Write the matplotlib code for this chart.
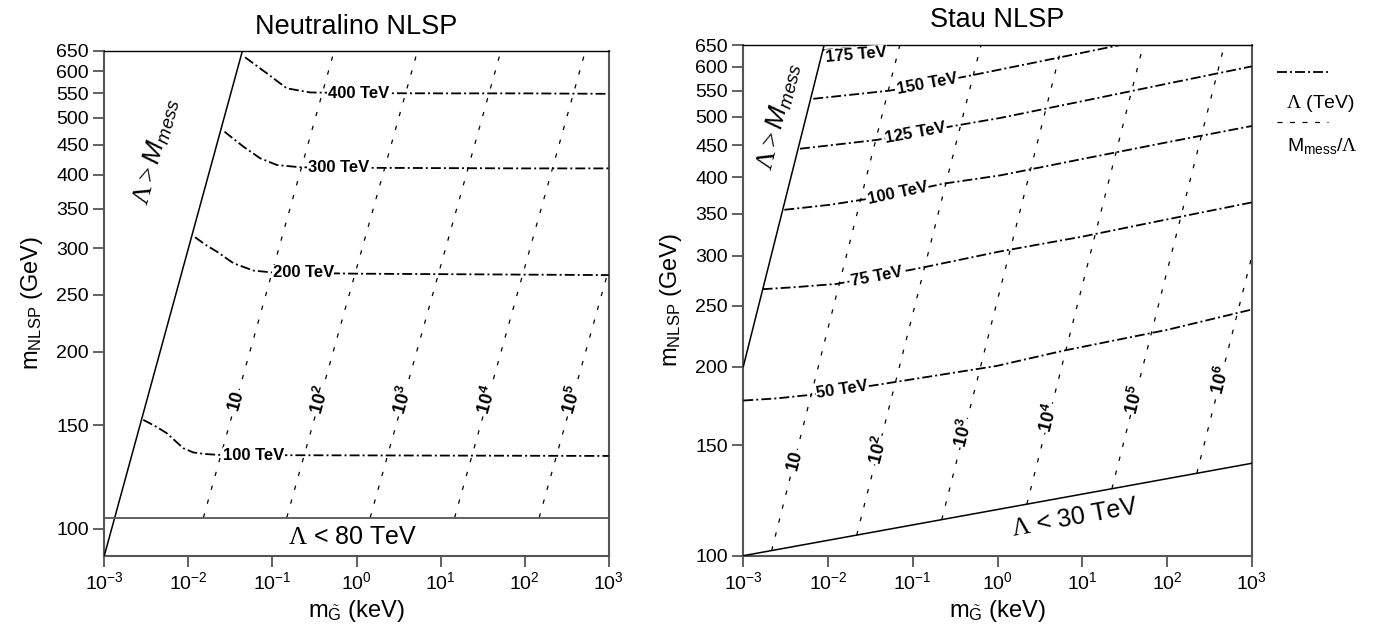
import numpy as np
import matplotlib
matplotlib.use('Agg')
import matplotlib.pyplot as plt
from matplotlib.lines import Line2D
from matplotlib.ticker import NullLocator, FixedLocator, FixedFormatter

plt.rcParams['font.family'] = ['Liberation Sans', 'DejaVu Sans']
plt.rcParams['mathtext.fontset'] = 'custom'
plt.rcParams['mathtext.rm'] = 'Liberation Serif'
plt.rcParams['mathtext.it'] = 'Liberation Sans:italic'
plt.rcParams['mathtext.bf'] = 'Liberation Sans:bold'
plt.rcParams['mathtext.sf'] = 'Liberation Sans'

# ---------------- data ----------------
x_decades = [1e-3, 1e-2, 1e-1, 1e0, 1e1, 1e2, 1e3]
m_ticks = [100, 150, 200, 250, 300, 350, 400, 450, 500, 550, 600, 650]

# Neutralino NLSP: Lambda contours (x: gravitino mass keV, y: NLSP mass GeV)
neu_labels = ['100 TeV', '200 TeV', '300 TeV', '400 TeV']
neu_100_x = [2.91e-3, 4.2e-3, 5.53e-3, 7.0e-3, 8.7e-3, 1.15e-2, 1.6e-2, 2.18e-2, 0.1, 1, 10, 100, 1000]
neu_100_y = [153.2, 149.0, 145.4, 141.0, 137.1, 134.8, 134.0, 133.6, 133.4, 133.3, 133.2, 133.1, 133.0]
neu_200_x = [1.2e-2, 1.6e-2, 2.18e-2, 3.44e-2, 5.94e-2, 0.103, 1, 10, 100, 1000]
neu_200_y = [313.2, 304.0, 296.0, 282.8, 274.8, 272.7, 271.5, 271.0, 270.5, 270.0]
neu_300_x = [2.69e-2, 4.52e-2, 7.14e-2, 0.113, 0.214, 1, 10, 100, 1000]
neu_300_y = [473.4, 446.4, 426.6, 415.5, 411.8, 411.0, 410.5, 410.0, 410.0]
neu_400_x = [4.73e-2, 8.57e-2, 0.148, 0.281, 1, 10, 100, 1000]
neu_400_y = [633.4, 595.0, 561.0, 552.0, 550.5, 550.0, 550.0, 549.0]
neu_label_x = [6.05e-2, 0.232, 0.605, 1.05]

# Neutralino boundaries
neu_mess_x = [1e-3, 0.044]
neu_mess_y = [90, 650]
neu_lam80 = 104.5
# Messenger-scale ratio lines: gravitino mass where each line meets the Lambda<80 TeV line
neu_ratio_labels = ['10', '10^2', '10^3', '10^4', '10^5']
neu_ratio_x0 = [1.51e-2, 0.148, 1.455, 14.7, 149.0]
neu_ratio_slope = 1.96
neu_ratio_label_y = 165.6

# Stau NLSP: Lambda contours
stau_labels = ['50 TeV', '75 TeV', '100 TeV', '125 TeV', '150 TeV', '175 TeV']
stau_50_x = [1e-3, 2.5e-3, 6.17e-3, 3.76e-2, 0.982, 6.0, 100, 1000]
stau_50_y = [176.6, 178.0, 180.3, 187.0, 200.5, 212.0, 228.8, 246.5]
stau_75_x = [1.69e-3, 3.98e-3, 1.27e-2, 0.122, 1.07, 10, 100, 1000]
stau_75_y = [265.6, 267.5, 270.8, 287.0, 305.0, 322.0, 343.0, 365.0]
stau_100_x = [3.05e-3, 1.06e-2, 5e-2, 0.23, 1.07, 10, 100, 1000]
stau_100_y = [355.3, 361.9, 374.0, 391.0, 403.0, 428.0, 455.0, 483.0]
stau_125_x = [4.67e-3, 3.76e-2, 0.275, 1.07, 10, 100, 1000]
stau_125_y = [444.4, 459.0, 482.0, 497.4, 529.0, 564.0, 601.0]
stau_150_x = [6.7e-3, 5.4e-2, 0.435, 3.18, 28.0, 100]
stau_150_y = [533.7, 550.0, 579.6, 612.0, 650.0, 672.0]
stau_175_x = [8.7e-3, 3.0e-2, 9.0e-2]
stau_175_y = [638.0, 646.0, 655.0]
stau_label_x = [1.46e-2, 3.8e-2, 6.7e-2, 0.109, 0.15, 2.14e-2]

# Stau boundaries
stau_mess_x = [1e-3, 9.0e-3]
stau_mess_y = [200, 650]
stau_lam30_x = [1e-3, 1e3]
stau_lam30_y = [100, 140.3]
stau_ratio_labels = ['10', '10^2', '10^3', '10^4', '10^5', '10^6']
stau_ratio_x0 = [2.16e-3, 2.18e-2, 0.22, 2.22, 22.4, 225.0]
stau_ratio_slope = 1.88
stau_ratio_label_y = [142.0, 147.3, 156.7, 165.5, 177.0, 190.5]

# ---------------- styling ----------------
W, H = 1387, 634
fig = plt.figure(figsize=(W / 100, H / 100), dpi=100)
ax1 = fig.add_axes([104.3 / W, 1 - 555.7 / H, 504.4 / W, 505.0 / H])
ax2 = fig.add_axes([743.3 / W, 1 - 555.7 / H, 508.4 / W, 510.7 / H])

DASHDOT = (0, (5.5, 1.7, 1.1, 1.7))
DASHED = (0, (3.5, 8))
LW_L = 1.3
LW_R = 0.9
LAB_FS = 12
RAT_FS = 13


def style_axes(ax, ymin):
    ax.set_xscale('log')
    ax.set_yscale('log')
    ax.set_xlim(1e-3, 1e3)
    ax.set_ylim(ymin, 650)
    ax.xaxis.set_major_locator(FixedLocator(x_decades))
    ax.xaxis.set_minor_locator(NullLocator())
    ax.yaxis.set_major_locator(FixedLocator(m_ticks))
    ax.yaxis.set_major_formatter(FixedFormatter([str(t) for t in m_ticks]))
    ax.yaxis.set_minor_locator(NullLocator())
    ax.tick_params(direction='out', length=8, width=1.3, color='#555555',
                   labelsize=14, pad=3)
    for s in ['left', 'bottom', 'right']:
        ax.spines[s].set_color('#555555')
        ax.spines[s].set_linewidth(1.5)
    ax.spines['top'].set_color('black')
    ax.spines['top'].set_linewidth(1.0)
    ax.set_ylabel(r'm$_{\mathsf{NLSP}}$ (GeV)', fontsize=17, labelpad=8)
    ax.set_xlabel(r'm$_{\tilde{\mathsf{G}}}$ (keV)', fontsize=17, labelpad=4)


style_axes(ax1, 90)
style_axes(ax2, 100)
ax1.set_title('Neutralino NLSP', fontsize=19.5, pad=12)
ax2.set_title('Stau NLSP', fontsize=19.5, pad=13)


def disp_angle(ax, x0, y0, x1, y1):
    p0 = ax.transData.transform((x0, y0))
    p1 = ax.transData.transform((x1, y1))
    return np.degrees(np.arctan2(p1[1] - p0[1], p1[0] - p0[0]))


def curve_label(ax, xs, ys, xl, text, rotate=True):
    lx, ly = np.log10(xs), np.log10(ys)
    t = np.log10(xl)
    yl = 10 ** np.interp(t, lx, ly)
    ang = 0
    if rotate:
        ya = 10 ** np.interp(t - 0.15, lx, ly)
        yb = 10 ** np.interp(t + 0.15, lx, ly)
        ang = disp_angle(ax, 10 ** (t - 0.15), ya, 10 ** (t + 0.15), yb)
    ax.text(xl, yl, text, fontsize=LAB_FS, fontweight='bold', ha='center', va='center',
            rotation=ang, rotation_mode='anchor',
            bbox=dict(fc='white', ec='none', pad=0.4), zorder=5)


def ratio_line(ax, x0, y0, slope, label, ylab):
    y = np.geomspace(y0, 800, 60)
    x = x0 * (y / y0) ** slope
    ax.plot(x, y, color='black', lw=LW_R, ls=DASHED, zorder=2)
    xl = x0 * (ylab / y0) ** slope
    ang = disp_angle(ax, x0, y0, x0 * (700 / y0) ** slope, 700)
    if '^' in label:
        base, ex = label.split('^')
        txt = r'$\mathbf{%s^{%s}}$' % (base, ex)
    else:
        txt = label
    ax.text(xl, ylab, txt, fontsize=RAT_FS, fontweight='bold', ha='center', va='center',
            rotation=ang, rotation_mode='anchor',
            bbox=dict(fc='white', ec='none', pad=0.3), zorder=5)


# ---------------- left panel ----------------
ax1.plot(neu_mess_x, neu_mess_y, color='black', lw=1.1, zorder=3)
ax1.axhline(neu_lam80, color='#555555', lw=1.3, zorder=3)
neu_curves = [(neu_100_x, neu_100_y), (neu_200_x, neu_200_y),
              (neu_300_x, neu_300_y), (neu_400_x, neu_400_y)]
for (xs, ys), lab, xl in zip(neu_curves, neu_labels, neu_label_x):
    ax1.plot(xs, ys, color='black', lw=LW_L, ls=DASHDOT, zorder=3)
    curve_label(ax1, xs, ys, xl, lab, rotate=False)
for x0, lab in zip(neu_ratio_x0, neu_ratio_labels):
    ratio_line(ax1, x0, neu_lam80, neu_ratio_slope, lab, neu_ratio_label_y)

ang_mess1 = disp_angle(ax1, neu_mess_x[0], neu_mess_y[0], neu_mess_x[1], neu_mess_y[1])
ax1.text(4.1e-3, 438, r'$\Lambda > M_{mess}$', fontsize=19, rotation=ang_mess1,
         rotation_mode='anchor', ha='center', va='center')
ax1.text(0.9, 97, r'$\Lambda$ < 80 TeV', fontsize=18, ha='center', va='center')

# ---------------- right panel ----------------
ax2.plot(stau_mess_x, stau_mess_y, color='black', lw=1.1, zorder=3)
ax2.plot(stau_lam30_x, stau_lam30_y, color='black', lw=1.1, zorder=3)
stau_curves = [(stau_50_x, stau_50_y), (stau_75_x, stau_75_y), (stau_100_x, stau_100_y),
               (stau_125_x, stau_125_y), (stau_150_x, stau_150_y), (stau_175_x, stau_175_y)]
for (xs, ys), lab, xl in zip(stau_curves, stau_labels, stau_label_x):
    ax2.plot(xs, ys, color='black', lw=LW_L, ls=DASHDOT, zorder=3)
    if lab == '175 TeV':
        ax2.text(xl, 627, lab, fontsize=LAB_FS, fontweight='bold', ha='center', va='center',
                 rotation=5, rotation_mode='anchor',
                 bbox=dict(fc='white', ec='none', pad=0.4), zorder=5)
    else:
        curve_label(ax2, xs, ys, xl, lab)

lam30_lx = np.log10(stau_lam30_x)
lam30_ly = np.log10(stau_lam30_y)
for x0, lab, yl in zip(stau_ratio_x0, stau_ratio_labels, stau_ratio_label_y):
    y0 = 10 ** np.interp(np.log10(x0), lam30_lx, lam30_ly)
    ratio_line(ax2, x0, y0, stau_ratio_slope, lab, yl)

ang_mess2 = disp_angle(ax2, stau_mess_x[0], stau_mess_y[0], stau_mess_x[1], stau_mess_y[1])
ax2.text(2.6e-3, 500, r'$\Lambda > M_{mess}$', fontsize=19, rotation=ang_mess2,
         rotation_mode='anchor', ha='center', va='center')
ang30 = disp_angle(ax2, stau_lam30_x[0], stau_lam30_y[0], stau_lam30_x[1], stau_lam30_y[1])
ax2.text(8.2, 115, r'$\Lambda$ < 30 TeV', fontsize=18, rotation=ang30,
         rotation_mode='anchor', ha='center', va='center')

# ---------------- legend (outside, right) ----------------
def fx(px):
    return px / W


def fy(py):
    return 1 - py / H


fig.add_artist(Line2D([fx(1276.7), fx(1328.3)], [fy(71.7), fy(71.7)],
                      color='black', lw=LW_L, ls=DASHDOT, transform=fig.transFigure))
fig.text(fx(1321), fy(103), r'$\Lambda$ (TeV)', fontsize=14, ha='center', va='center')
fig.add_artist(Line2D([fx(1276.7), fx(1328.3)], [fy(121.7), fy(121.7)],
                      color='black', lw=LW_R, ls=(0, (4, 6)), transform=fig.transFigure))
fig.text(fx(1322), fy(146), r'M$_{\mathsf{mess}}$/$\Lambda$', fontsize=14, ha='center', va='center')

fig.savefig('out.png', dpi=100, facecolor='white')
